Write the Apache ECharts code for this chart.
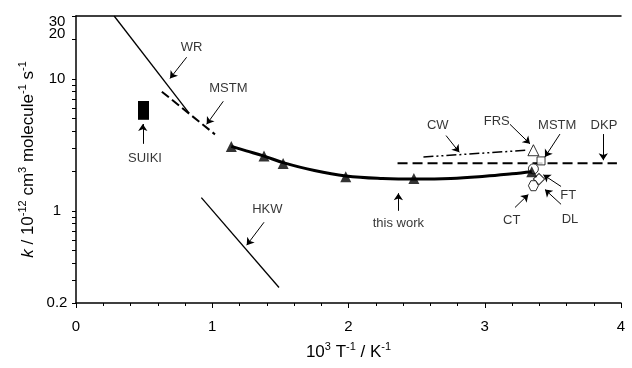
<!DOCTYPE html>
<html>
<head>
<meta charset="utf-8">
<script src="https://cdn.jsdelivr.net/npm/echarts@6/dist/echarts.min.js"></script>
<style>
  html, body { margin: 0; padding: 0; background: #fff; }
  #chart { width: 632px; height: 368px; }
</style>
</head>
<body>
<div id="chart"></div>
<script>
const FONT = '"Liberation Sans", Arial, Helvetica, sans-serif';

// Axis ticks: x is 1000/T in K^-1, y is k in 1e-12 cm3 molecule-1 s-1 (log)
const xMin = 0, xMax = 4;
const yMin = 0.2, yMax = 30;
const yTickValues = [0.2, 0.3, 0.4, 0.5, 0.6, 0.7, 0.8, 0.9, 1, 2, 3, 4, 5, 6, 7, 8, 9, 10, 20, 30];
const yLabelValues = [0.2, 1, 10, 30];
const yCrowdedLabel = [20];

// This work: measured points and the fitted curve through them
const thisWorkPoints = [[1.14, 3.08], [1.38, 2.6], [1.52, 2.28], [1.98, 1.81], [2.48, 1.76], [3.345, 1.98]];
const thisWorkFit = [[1.14, 3.08], [1.25, 2.85], [1.38, 2.6], [1.52, 2.32], [1.75, 2.02], [1.98, 1.84],
                     [2.25, 1.76], [2.5, 1.74], [2.75, 1.76], [3.0, 1.83], [3.2, 1.91], [3.345, 1.98]];

// Literature results
const wrLine = [[0.28, 30], [0.83, 5.5]];
const mstmHighT = [[0.63, 8.0], [1.02, 3.8]];
const hkwLine = [[0.92, 1.26], [1.49, 0.262]];
const suikiBox = [[0.455, 0.536, 4.9, 6.8]];   // x from, x to, k from, k to
const cwLine = [[2.55, 2.56], [3.31, 2.88]];
const dkpLine = [[2.36, 2.29], [3.97, 2.29]];
const frsPoint = [[3.357, 2.88]];
const mstmPoint = [[3.413, 2.39]];
const ftPoint = [[3.357, 2.08]];
const dlPoint = [[3.398, 1.74]];
const ctPoint = [[3.357, 1.55]];

// Annotation labels and their arrows
const labelNames = ['WR', 'MSTM', 'SUIKI', 'HKW', 'this work', 'CW', 'FRS', 'MSTM', 'DKP', 'FT', 'DL', 'CT'];
const labelAnchors = [[0.849, 17.35], [1.118, 8.4], [0.506, 2.49], [1.404, 1.03], [2.366, 0.8], [2.655, 4.41],
                      [3.088, 4.75], [3.532, 4.41], [3.875, 4.41], [3.613, 1.315], [3.626, 0.857], [3.198, 0.843]];
const arrowStarts = [[0.812, 14.6], [1.081, 6.77], [0.49, 3.22], [1.38, 0.819], [2.366, 1.0], [2.716, 3.72],
                     [3.185, 4.53], [3.552, 3.82], [3.87, 3.82], [3.56, 1.53], [3.56, 1.12], [3.222, 1.06]];
const arrowEnds = [[0.69, 10.09], [0.959, 4.53], [0.49, 4.55], [1.253, 0.549], [2.366, 1.36], [2.813, 2.78],
                   [3.332, 3.22], [3.442, 2.56], [3.87, 2.42], [3.43, 1.875], [3.442, 1.45], [3.32, 1.33]];

const hexagon = 'path://M2,0 L6,0 L8,3.46 L6,6.93 L2,6.93 L0,3.46 Z';

function openMarker(data, symbol, size, rotate) {
  return {
    type: 'scatter', data: data, symbol: symbol, symbolSize: size, symbolRotate: rotate || 0,
    itemStyle: { color: '#fff', borderColor: '#000', borderWidth: 1 }, z: 4, silent: true
  };
}
function segment(data, width, type) {
  return {
    type: 'line', data: data, symbol: 'none', silent: true,
    lineStyle: { color: '#000', width: width, type: type || 'solid' }, z: 3
  };
}
// y tick labels, with 30 and 20 pushed apart since they sit close together
function yLabelText(v) {
  if (Math.abs(v - 30) < 1e-6) return '\n30';
  if (Math.abs(v - 20) < 1e-6) return '20\n';
  return String(v);
}
const yLabelStyle = { fontFamily: FONT, fontSize: 15, color: '#000', margin: 19, align: 'center', lineHeight: 11 };

const chart = echarts.init(document.getElementById('chart'), null, { renderer: 'canvas' });
chart.setOption({
  animation: false,
  backgroundColor: '#fff',
  grid: { left: 76, right: 11, top: 16, bottom: 60 },
  xAxis: [{
    type: 'value', min: xMin, max: xMax, interval: 1,
    name: '10{s|3} T{s|-1} / K{s|-1}',
    nameLocation: 'middle', nameGap: 38, nameMoveOverlap: false,
    nameTextStyle: {
      fontFamily: FONT, fontSize: 17, color: '#000', lineHeight: 22,
      rich: { s: { fontFamily: FONT, fontSize: 11, lineHeight: 11, verticalAlign: 'top', color: '#000' } }
    },
    axisLine: { show: true, lineStyle: { color: '#000', width: 1.5 } },
    axisTick: { show: true, inside: false, length: 5, lineStyle: { color: '#000', width: 1 } },
    minorTick: { show: true, splitNumber: 5, length: 3, lineStyle: { color: '#000', width: 1 } },
    axisLabel: { fontFamily: FONT, fontSize: 15, color: '#000', margin: 16 },
    splitLine: { show: false }, minorSplitLine: { show: false }
  }, {
    type: 'value', min: xMin, max: xMax, position: 'top',
    axisLine: { show: true, lineStyle: { color: '#000', width: 1.5 } },
    axisTick: { show: false }, axisLabel: { show: false }, splitLine: { show: false }
  }],
  yAxis: [{
    type: 'log', logBase: 10, min: yMin, max: yMax,
    name: '{i|k} / 10{s|-12} cm{s|3} molecule{s|-1} s{s|-1}',
    nameLocation: 'middle', nameGap: 37, nameMoveOverlap: false,
    nameTextStyle: {
      fontFamily: FONT, fontSize: 17, color: '#000', lineHeight: 22,
      rich: {
        i: { fontFamily: FONT, fontSize: 17, fontStyle: 'italic', color: '#000' },
        s: { fontFamily: FONT, fontSize: 11, lineHeight: 11, verticalAlign: 'top', color: '#000' }
      }
    },
    axisLine: { show: true, lineStyle: { color: '#000', width: 1.5 } },
    axisTick: { show: true, inside: false, customValues: yTickValues, length: 4, lineStyle: { color: '#000', width: 1 } },
    axisLabel: Object.assign({ show: true, customValues: yLabelValues, showMinLabel: true, showMaxLabel: true,
                               hideOverlap: false, formatter: yLabelText }, yLabelStyle),
    splitLine: { show: false }, minorTick: { show: false }
  }, {
    type: 'log', logBase: 10, min: yMin, max: yMax, position: 'left',
    axisLine: { show: false }, axisTick: { show: false }, splitLine: { show: false },
    axisLabel: Object.assign({ show: true, customValues: yCrowdedLabel, formatter: yLabelText }, yLabelStyle)
  }],
  series: [
    segment(wrLine, 1.3),
    segment(mstmHighT, 2, [9, 4]),
    segment(hkwLine, 1.3),
    segment(cwLine, 1.5, [10, 3, 2, 3, 2, 3]),
    segment(dkpLine, 2, [10, 5]),
    {
      type: 'custom', data: suikiBox, silent: true, z: 3,
      encode: { x: [0, 1], y: [2, 3] },
      renderItem: function (params, api) {
        const p0 = api.coord([api.value(0), api.value(3)]);
        const p1 = api.coord([api.value(1), api.value(2)]);
        return { type: 'rect', shape: { x: p0[0], y: p0[1], width: p1[0] - p0[0], height: p1[1] - p0[1] },
                 style: { fill: '#000' } };
      }
    },
    openMarker(frsPoint, 'triangle', 11),
    openMarker(mstmPoint, 'rect', 8),
    openMarker(ftPoint, 'circle', 10),
    openMarker(dlPoint, 'rect', 8, 45),
    openMarker(ctPoint, hexagon, 10),
    {
      type: 'line', data: thisWorkFit, smooth: 0.4, symbol: 'none', silent: true, z: 5,
      lineStyle: { color: '#000', width: 3 }
    },
    {
      type: 'scatter', data: thisWorkPoints, symbol: 'triangle', symbolSize: 11, silent: true, z: 6,
      itemStyle: { color: '#000' }
    },
    {
      type: 'lines', coordinateSystem: 'cartesian2d', silent: true, z: 7,
      symbol: ['none', 'arrow'], symbolSize: 7,
      lineStyle: { color: '#000', width: 1, opacity: 1, curveness: 0 },
      data: arrowStarts.map(function (s, i) { return { coords: [s, arrowEnds[i]] }; })
    },
    {
      type: 'scatter', symbolSize: 0, silent: true, z: 8,
      data: labelAnchors.map(function (p, i) { return { name: labelNames[i], value: p }; }),
      label: {
        show: true, position: 'inside', formatter: '{b}',
        fontFamily: FONT, fontSize: 13, color: '#000'
      }
    }
  ]
});
</script>
</body>
</html>
